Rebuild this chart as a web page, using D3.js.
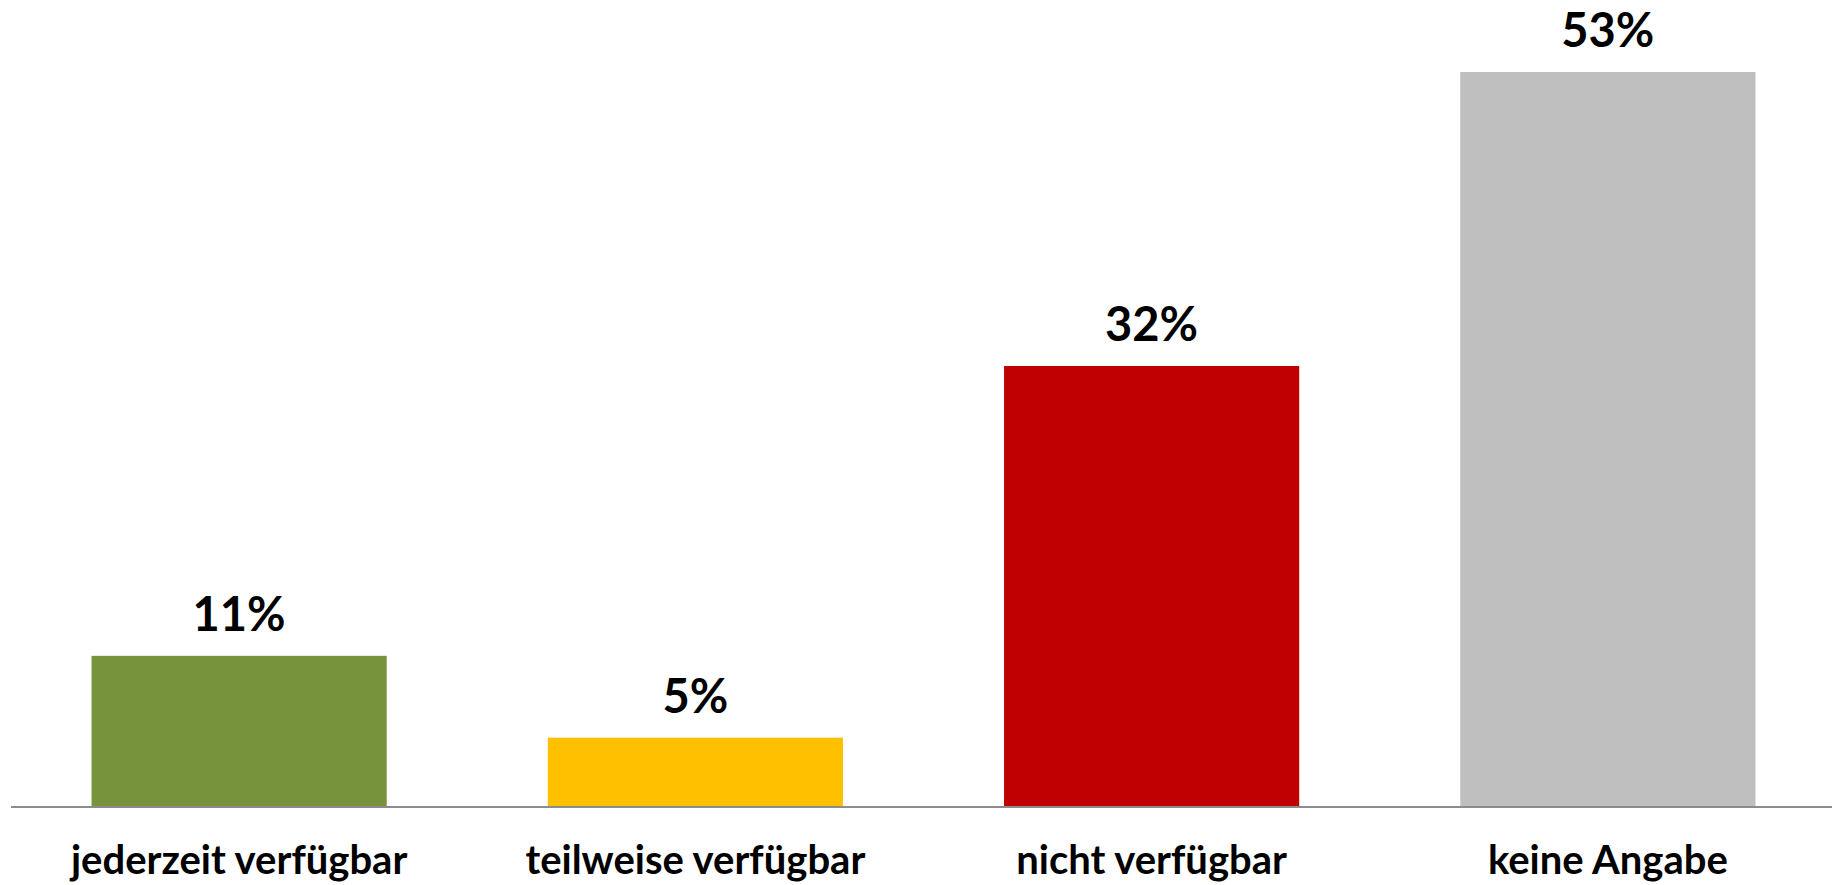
<!DOCTYPE html>
<html>
<head>
<meta charset="utf-8">
<script src="https://cdn.jsdelivr.net/npm/d3@7"></script>
<style>
  body { margin: 0; background: #fff; }
  text { font-family: Lato, "Noto Sans", sans-serif; font-weight: bold; fill: #000; }
</style>
</head>
<body>
<script>
var categories = ["jederzeit verfügbar", "teilweise verfügbar", "nicht verfügbar", "keine Angabe"];
var values = [10.9, 5.0, 31.8, 53.0];
var colors = ["#77933C", "#FFC000", "#C00000", "#BFBFBF"];

var width = 1832,
  height = 885,
  baseY = 807;

var svg = d3.select("body").append("svg")
  .attr("width", width)
  .attr("height", height);

var x = d3.scaleBand()
  .domain(categories)
  .range([11, 1836])
  .paddingInner(0.353)
  .paddingOuter(0.1765);

var y = d3.scaleLinear()
  .domain([0, 53])
  .range([baseY, 72]);

svg.selectAll(".bar")
  .data(values)
  .enter().append("rect")
  .attr("class", "bar")
  .attr("x", function (d, i) { return x(categories[i]); })
  .attr("y", function (d) { return y(d); })
  .attr("width", x.bandwidth())
  .attr("height", function (d) { return y(0) - y(d); })
  .attr("fill", function (d, i) { return colors[i]; });

// baseline axis
var xAxis = svg.append("g")
  .attr("transform", "translate(0," + baseY + ")")
  .call(d3.axisBottom(x).tickSize(0).tickPadding(0));
xAxis.select(".domain")
  .attr("d", "M11,0H" + width)
  .attr("stroke", "#8C8C8C")
  .attr("stroke-width", 2);
xAxis.selectAll(".tick text")
  .attr("y", 67)
  .attr("dy", 0)
  .style("font-family", "Lato, 'Noto Sans', sans-serif")
  .style("font-weight", "bold")
  .style("font-size", "40px")
  .attr("fill", "#000");

svg.selectAll(".value")
  .data(values)
  .enter().append("text")
  .attr("class", "value")
  .attr("x", function (d, i) { return x(categories[i]) + x.bandwidth() / 2; })
  .attr("y", function (d) { return y(d) - 25; })
  .attr("text-anchor", "middle")
  .style("font-size", "47px")
  .text(function (d) { return Math.round(d) + "%"; });
</script>
</body>
</html>
